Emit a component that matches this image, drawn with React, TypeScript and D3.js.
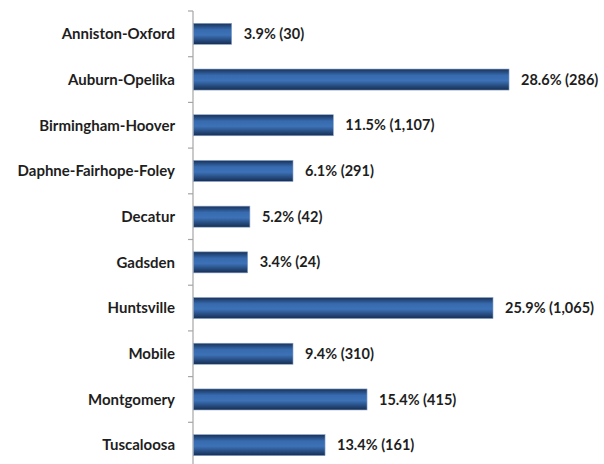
import React from "react";
import * as d3 from "d3";

const categories = [
  "Anniston-Oxford",
  "Auburn-Opelika",
  "Birmingham-Hoover",
  "Daphne-Fairhope-Foley",
  "Decatur",
  "Gadsden",
  "Huntsville",
  "Mobile",
  "Montgomery",
  "Tuscaloosa",
];
// Percent shown in the labels
const shares = [3.9, 28.6, 11.5, 6.1, 5.2, 3.4, 25.9, 9.4, 15.4, 13.4];
// Counts shown in parentheses
const counts = [30, 286, 1107, 291, 42, 24, 1065, 310, 415, 161];
// Bar lengths as drawn in the picture (percent units)
const barValues = [3.5, 28.6, 12.7, 9.05, 5.15, 4.95, 27.15, 9.05, 15.75, 11.95];

const W = 604;
const H = 464;
const axisX = 193;
const pxPerUnit = 11.05;

export default function App() {
  const x = d3.scaleLinear().domain([0, 30]).range([axisX, axisX + 30 * pxPerUnit]);
  const y = d3
    .scaleBand<string>()
    .domain(categories)
    .range([11, 11 + 45.7 * categories.length])
    .paddingInner(0.54)
    .paddingOuter(0.27);
  const step = y.step();
  const bounds = d3.range(categories.length + 1).map((i) => 11 + i * step);
  const fmt = d3.format(",");
  const font = "Lato, 'Open Sans', sans-serif";

  return (
    <svg
      width={W}
      height={H}
      style={{ position: "absolute", left: 0, top: 0, background: "#fff" }}
    >
      <defs>
        <linearGradient id="barGrad" x1="0" y1="0" x2="0" y2="1">
          <stop offset="0%" stopColor="#183259" />
          <stop offset="30%" stopColor="#376aae" />
          <stop offset="55%" stopColor="#3d72b8" />
          <stop offset="100%" stopColor="#152d52" />
        </linearGradient>
      </defs>
      <line x1={axisX} x2={axisX} y1={bounds[0]} y2={H} stroke="#a6a6a6" strokeWidth={1.2} />
      {bounds.map((b, i) => (
        <line key={i} x1={axisX - 5} x2={axisX} y1={b} y2={b} stroke="#a6a6a6" strokeWidth={1.2} />
      ))}
      {categories.map((c, i) => {
        const by = y(c)!;
        const bw = y.bandwidth();
        const x1 = x(barValues[i]);
        return (
          <g key={c}>
            <rect
              x={x(0) + 0.5}
              y={by}
              width={x1 - x(0) - 0.5}
              height={bw}
              fill="url(#barGrad)"
              stroke="#8aa4c8"
              strokeWidth={0.6}
            />
            <text
              x={175}
              y={by + bw / 2}
              dy="0.35em"
              textAnchor="end"
              fontFamily={font}
              fontWeight={700}
              fontSize={15}
              fill="#1e1e1e"
            >
              {c}
            </text>
            <text
              x={x1 + 12}
              y={by + bw / 2}
              dy="0.35em"
              fontFamily={font}
              fontWeight={700}
              fontSize={14.5}
              fill="#1e1e1e"
            >
              {`${shares[i].toFixed(1)}% (${fmt(counts[i])})`}
            </text>
          </g>
        );
      })}
    </svg>
  );
}
